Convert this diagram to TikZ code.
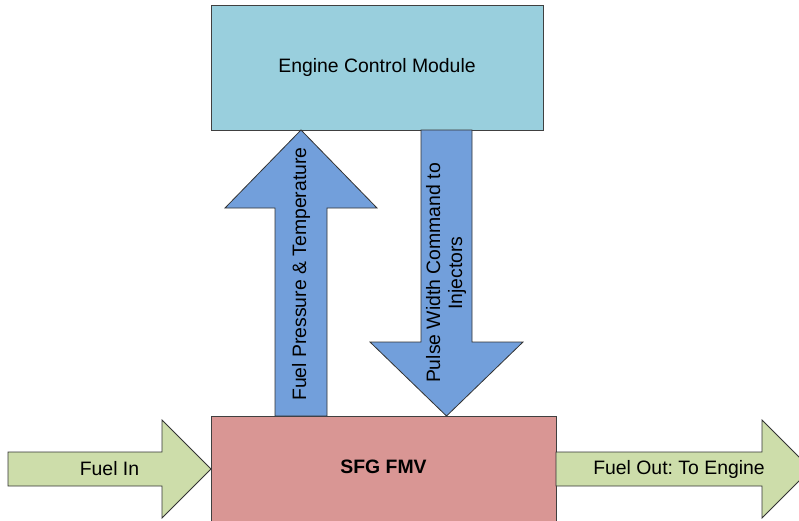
\documentclass[tikz,border=0pt]{standalone}
\usepackage{fontspec}
\setmainfont{Liberation Sans}
\usepackage{tikz}
\usetikzlibrary{positioning}
\frenchspacing

\definecolor{ecmblue}{RGB}{153,207,221}
\definecolor{fmvred}{RGB}{217,150,148}
\definecolor{sigblue}{RGB}{114,159,219}
\definecolor{fuelgreen}{RGB}{205,221,170}

\begin{document}
\begin{tikzpicture}[
  x=1pt, y=-1pt,
  font=\fontsize{19.4}{22}\selectfont,
  mybox/.style={draw=black!75,line width=0.8pt,inner sep=0pt},
  sigarrow/.style={draw=black!80,line width=0.8pt,fill=sigblue},
  fuelarrow/.style={draw=black!80,line width=0.8pt,fill=fuelgreen}]
\useasboundingbox (0,0) rectangle (799,520);
\clip (0,0) rectangle (799,520);

\node[mybox, fill=ecmblue, minimum width=332pt, minimum height=125pt] (ecm) at (377,67.5) {Engine Control Module};
\node[mybox, fill=fmvred, minimum width=345pt, minimum height=110pt] (fmv) at (383.5,471) {};
\node[font=\fontsize{19.4}{22}\selectfont\bfseries] (fmvlabel) at (383.5,467) {SFG FMV};

% signals between ecm and fmv
\draw[sigarrow] (275,416) -- (275,208) -- (225,208) -- (301,130) -- (377,208) -- (327,208) -- (327,416) -- cycle;
\node[rotate=90] (pressure) at (301,274) {Fuel Pressure \& Temperature};

\draw[sigarrow] (421,130) -- (421,342) -- (370,342) -- (446.5,416) -- (523,342) -- (472,342) -- (472,130) -- cycle;
\node[rotate=90, align=center] (pulse) at (446,273) {Pulse Width Command to\\Injectors};

% fuel flow
\draw[fuelarrow] (8,452) -- (162,452) -- (162,420) -- (211,469) -- (162,518) -- (162,486) -- (8,486) -- cycle;
\node (fuelin) at (109.5,469) {Fuel In};

\draw[fuelarrow] (556,452) -- (762,452) -- (762,420) -- (811,469) -- (762,518) -- (762,486) -- (556,486) -- cycle;
\node (fuelout) at (679,469) {Fuel Out: To Engine};

\end{tikzpicture}
\end{document}
